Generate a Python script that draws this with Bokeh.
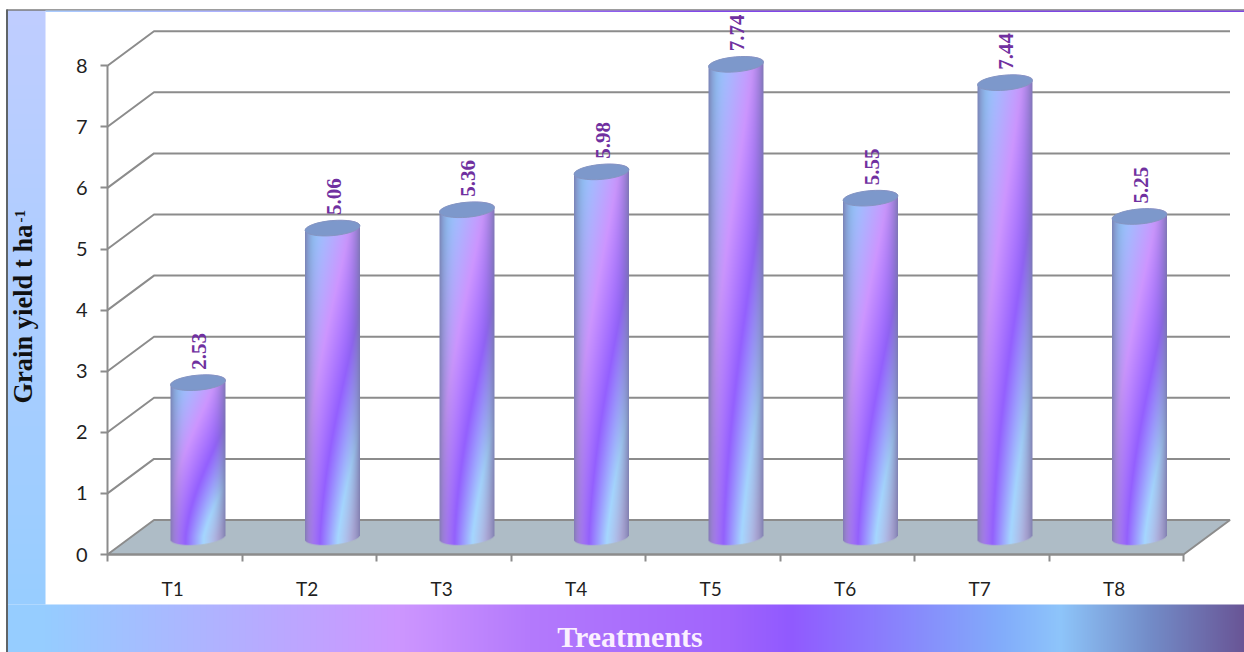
import numpy as np
from bokeh.core.properties import value
from bokeh.embed import file_html
from bokeh.models import FixedTicker, LinearAxis, Range1d
from bokeh.plotting import figure
from bokeh.resources import INLINE

# Chart data
treatments = ["T1", "T2", "T3", "T4", "T5", "T6", "T7", "T8"]
grain_yield = [2.53, 5.06, 5.36, 5.98, 7.74, 5.55, 7.44, 5.25]
yield_ticks = [0, 1, 2, 3, 4, 5, 6, 7, 8]

# Page geometry
W, H = 1244, 652
ORIGIN_X, ORIGIN_Y = 107.0, 554.0
PX_PER_CAT, PX_PER_UNIT = 134.5, 61.1
DEPTH_X, DEPTH_Y = 46.5 / PX_PER_CAT, 34.5 / PX_PER_UNIT
BAR_R, CAP_B = 27.5, 7.5
TILT = np.radians(5)


def cx(px):
    return (px - ORIGIN_X) / PX_PER_CAT


def cy(py):
    return (ORIGIN_Y - py) / PX_PER_UNIT


def gradient(t, stops):
    pos = [s[0] for s in stops]
    return np.stack(
        [np.interp(t, pos, [s[1][c] for s in stops]) for c in range(3)], axis=-1
    )


# Colour sweep of the cylinders
BAR_SWEEP = [
    (0.00, (150, 200, 255)),
    (0.28, (205, 150, 255)),
    (0.52, (148, 96, 255)),
    (0.78, (165, 215, 255)),
    (1.00, (185, 180, 225)),
]

# Colour sweep of the lower band, stops given along its width in pixels
BAND_SWEEP = [
    (7, (150, 205, 255)),
    (45, (150, 205, 255)),
    (400, (205, 150, 255)),
    (530, (180, 122, 252)),
    (730, (160, 100, 252)),
    (790, (145, 90, 255)),
    (1000, (130, 172, 250)),
    (1060, (142, 197, 250)),
    (1150, (115, 140, 200)),
    (1244, (105, 85, 150)),
]


def to_rgba(rgb, alpha=None):
    rows, cols = rgb.shape[:2]
    out = np.empty((rows, cols), dtype=np.uint32)
    view = out.view(np.uint8).reshape(rows, cols, 4)
    view[..., :3] = np.clip(rgb, 0, 255).astype(np.uint8)
    view[..., 3] = 255 if alpha is None else np.clip(alpha * 255, 0, 255).astype(np.uint8)
    return out


def cylinder_image(val):
    """Shaded column body, masked to a tilted cylinder silhouette."""
    pad = 14
    body = val * PX_PER_UNIT
    cols, rows = int(2 * BAR_R + 4), int(np.ceil(body + 2 * pad))
    xs = np.arange(cols) + 0.5 - cols / 2
    ys = np.arange(rows) + 0.5 - pad
    X, Y = np.meshgrid(xs, ys)
    u = (X + BAR_R) / (2 * BAR_R)
    v = np.clip(Y / body, 0, 1)
    slope = 0.45 + 0.35 * (1 - v) ** 3
    t = slope * (u - 0.2) + 0.46 * (1 - v**1.3)
    rgb = gradient(np.clip(t, 0, 1), BAR_SWEEP)
    edge = np.clip(np.abs(2 * u - 1), 0, 1) ** 4
    shade = np.array([118, 118, 168.0])
    rgb = rgb * (1 - 0.85 * edge[..., None]) + shade * 0.85 * edge[..., None]

    arc = CAP_B * np.sqrt(np.clip(1 - (X / BAR_R) ** 2, 0, 1))
    lean = np.tan(TILT) * X
    alpha = (
        np.clip(BAR_R - np.abs(X) + 0.5, 0, 1)
        * np.clip(Y - (lean - arc) + 0.5, 0, 1)
        * np.clip((body + lean + arc) - Y + 0.5, 0, 1)
    )
    return to_rgba(rgb, alpha), cols, rows, pad


p = figure(
    width=W, height=H, output_backend="svg", toolbar_location=None,
    x_range=Range1d(cx(0), cx(W)), y_range=Range1d(cy(H), cy(0)),
    min_border=0, x_axis_type=None, y_axis_type=None,
)
p.outline_line_color = None
p.grid.visible = False
p.background_fill_color = "white"
p.border_fill_color = "white"

# Coloured panels round the plotting area
BAND_L, BAND_R, BAND_TOP, BAND_BOTTOM = 7, W, 604, H
band_px = np.array([np.arange(BAND_L, BAND_R) + 0.5])
p.image_rgba(
    image=[to_rgba(gradient(band_px, BAND_SWEEP))], x=cx(BAND_L), y=cy(BAND_BOTTOM),
    dw=(BAND_R - BAND_L) / PX_PER_CAT, dh=(BAND_BOTTOM - BAND_TOP) / PX_PER_UNIT,
)
PANEL_R, PANEL_TOP = 45, 10
m = BAND_TOP - PANEL_TOP
t_panel = (np.arange(m) / (m - 1)).reshape(-1, 1)
panel_rgb = gradient(t_panel, [(0, (152, 205, 255)), (0.5, (172, 205, 255)), (1, (192, 205, 255))])
p.image_rgba(
    image=[to_rgba(panel_rgb)], x=cx(BAND_L), y=cy(BAND_TOP),
    dw=(PANEL_R - BAND_L) / PX_PER_CAT, dh=m / PX_PER_UNIT,
)

# Frame lines along the top and left
p.line([cx(6), cx(W)], [cy(9.5), cy(9.5)], line_color="#3a3a3a", line_width=1)
k = W - PANEL_R
top_rgb = gradient(
    np.array([np.arange(k) / (k - 1)]),
    [(0, (170, 205, 255)), (0.3, (175, 150, 255)), (0.55, (130, 70, 235)), (1, (125, 70, 225))],
)
p.image_rgba(
    image=[to_rgba(top_rgb)], x=cx(PANEL_R), y=cy(11.5),
    dw=k / PX_PER_CAT, dh=1.5 / PX_PER_UNIT,
)
p.line([cx(6.5), cx(6.5)], [cy(9), cy(H)], line_color="#5f6468", line_width=2)

# Floor of the 3D box
n_cat = len(treatments)
p.patch(
    [0, DEPTH_X, n_cat + DEPTH_X, n_cat], [0, DEPTH_Y, DEPTH_Y, 0],
    fill_color="#aebcc6", line_color="#8c8c8c", line_width=2,
)

# Gridlines run up the back wall and across it
grid_x = [[0, DEPTH_X, n_cat + DEPTH_X] for _ in yield_ticks[1:]]
grid_y = [[v, v + DEPTH_Y, v + DEPTH_Y] for v in yield_ticks[1:]]
p.multi_line(grid_x, grid_y, line_color="#8c8c8c", line_width=2)

# Cylinders
for i, val in enumerate(grain_yield):
    xc = i + 0.5 + DEPTH_X / 2
    base = DEPTH_Y / 2
    img, cols, rows, pad = cylinder_image(val)
    p.image_rgba(
        image=[img], x=xc - cols / 2 / PX_PER_CAT, y=base - pad / PX_PER_UNIT,
        dw=cols / PX_PER_CAT, dh=rows / PX_PER_UNIT,
    )
bar_x = [i + 0.5 + DEPTH_X / 2 for i in range(n_cat)]
bar_top = [v + DEPTH_Y / 2 for v in grain_yield]
p.ellipse(
    bar_x, bar_top, width=2 * BAR_R, height=2 * CAP_B, width_units="screen",
    height_units="screen", angle=TILT, fill_color="#7d98cb", line_color="#8595c2", line_width=1,
)

# Value labels above each cylinder
p.text(
    bar_x, bar_top, text=[f"{v:.2f}" for v in grain_yield], angle=np.pi / 2,
    x_offset=1, y_offset=-13, text_align="left", text_baseline="middle",
    text_color="#7030a0", text_font=value("Liberation Serif"), text_font_style="bold",
    text_font_size="21px",
)

# Axes sit inside the frame at the origin of the box
y_axis = LinearAxis(
    ticker=FixedTicker(ticks=yield_ticks), fixed_location=0, bounds=(0, 8),
    axis_line_color="#8c8c8c", axis_line_width=2,
    major_tick_line_color="#8c8c8c", major_tick_line_width=2,
    major_tick_in=0, major_tick_out=7, minor_tick_line_color=None,
    major_label_standoff=13, major_label_text_font="Lato",
    major_label_text_font_size="20px", major_label_text_color="#1f1f1f",
)
p.add_layout(y_axis, "left")

label_pos = [i + 0.485 for i in range(n_cat)]
x_axis = LinearAxis(
    ticker=FixedTicker(ticks=label_pos, minor_ticks=list(range(n_cat + 1))),
    fixed_location=0, bounds=(0, n_cat),
    major_label_overrides={pos: name for pos, name in zip(label_pos, treatments)},
    axis_line_color="#8c8c8c", axis_line_width=2,
    major_tick_line_color=None, major_tick_out=7, major_tick_in=0,
    minor_tick_line_color="#8c8c8c", minor_tick_line_width=2,
    minor_tick_in=0, minor_tick_out=7,
    major_label_standoff=15, major_label_text_font="Lato",
    major_label_text_font_size="19px", major_label_text_color="#1f1f1f",
)
p.add_layout(x_axis, "below")

# Axis titles
p.text(
    [cx(22)], [cy(403)], text=["Grain yield t ha"], angle=np.pi / 2,
    text_align="left", text_baseline="middle", text_color="#111111",
    text_font=value("Liberation Serif"), text_font_style="bold", text_font_size="26.5px",
)
p.text(
    [cx(19)], [cy(222)], text=["-1"], angle=np.pi / 2,
    text_align="left", text_baseline="middle", text_color="#111111",
    text_font=value("Liberation Serif"), text_font_style="bold", text_font_size="15px",
)
p.text(
    [cx(629.5)], [cy(636)], text=["Treatments"], text_align="center",
    text_baseline="middle", text_color="#fbf0ff",
    text_font=value("Liberation Serif"), text_font_style="bold", text_font_size="30px",
)

open("out.html", "w").write(file_html(p, INLINE))
